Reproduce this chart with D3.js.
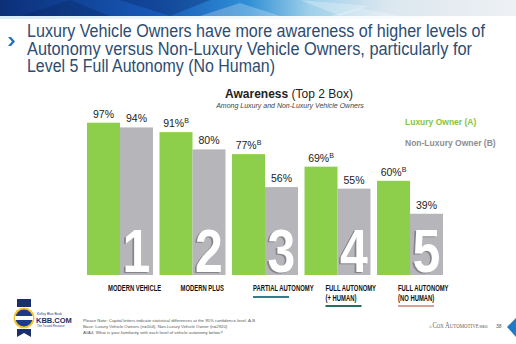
<!DOCTYPE html>
<html>
<head>
<meta charset="utf-8">
<script src="https://cdn.jsdelivr.net/npm/d3@7/dist/d3.min.js"></script>
<style>
  body { margin: 0; background: #fff; }
  svg { display: block; font-family: "Liberation Sans", Arial, sans-serif; }
</style>
</head>
<body>
<svg class="canvas" width="516" height="344"></svg>
<script>
// chart data
var categories = ['MODERN VEHICLE', 'MODERN PLUS', 'PARTIAL AUTONOMY', 'FULL AUTONOMY|(+ HUMAN)', 'FULL AUTONOMY|(NO HUMAN)'];
var luxury = [97, 91, 77, 69, 60];
var nonLuxury = [94, 80, 56, 55, 39];
var sigLetters = ['', 'B', 'B', 'B', 'B'];
var levels = ['1', '2', '3', '4', '5'];
var underlineColors = [null, null, '#2f7e88', '#2b6c55', '#d8a09d'];
var seriesNames = ['Luxury Owner (A)', 'Non-Luxury Owner (B)'];
var seriesColors = ['#8dcf4a', '#b5b5ba'];

var titleLines = [
    'Luxury Vehicle Owners have more awareness of higher levels of',
    'Autonomy versus Non-Luxury Vehicle Owners, particularly for',
    'Level 5 Full Autonomy (No Human)'
];
var titleWidths = [458, 445, 248];
var footnotes = [
    'Please Note: Capital letters indicate statistical differences at the 95% confidence level. A-B',
    'Base: Luxury Vehicle Owners (n=104), Non-Luxury Vehicle Owner (n=2920)',
    'AVA4. What is your familiarity with each level of vehicle autonomy below?'
];

var svg = d3.select('.canvas');
var defs = svg.append('defs');

/**
 * header banner
 */
var grad = defs.append('linearGradient').attr('id', 'banner');
[['0', '#0c2f78'], ['0.3', '#1758b8'], ['0.48', '#2f8fd6'], ['0.6', '#9fd0ea'], ['0.75', '#dbe7ef'], ['1', '#eef1f4']]
    .forEach(s => grad.append('stop').attr('offset', s[0]).attr('stop-color', s[1]));
svg.append('rect').attr('x', 0).attr('y', 0).attr('width', 516).attr('height', 16).attr('fill', 'url(#banner)');
var facets = [
    [[20, 16], [70, 0], [110, 16]], [[120, 0], [170, 16], [210, 0]], [[200, 16], [240, 3], [280, 16]],
    [[300, 0], [340, 16], [370, 6]], [[330, 16], [360, 8], [400, 16]]
];
svg.append('g').selectAll('polygon').data(facets).join('polygon')
    .attr('points', d => d.map(p => p.join(',')).join(' '))
    .attr('fill', (d, i) => i < 2 ? '#0a2460' : '#ffffff')
    .attr('opacity', (d, i) => i < 2 ? 0.35 : 0.25);
var strip = defs.append('linearGradient').attr('id', 'strip');
[['0', '#d7ecf8'], ['0.5', '#f3f9fc'], ['1', '#ffffff']]
    .forEach(s => strip.append('stop').attr('offset', s[0]).attr('stop-color', s[1]));
svg.append('rect').attr('x', 0).attr('y', 16).attr('width', 516).attr('height', 3).attr('fill', 'url(#strip)');

// chevron
svg.append('path')
    .attr('d', 'M8,37 L11,37 L15,41.5 L11,46 L8,46 L12,41.5 Z')
    .attr('fill', '#1f6fc0');

svg.append('g').selectAll('text').data(titleLines).join('text')
    .attr('x', 27)
    .attr('y', (d, i) => 37 + i * 17.5)
    .attr('font-size', 17.5)
    .attr('fill', '#2c4c72')
    .attr('textLength', (d, i) => titleWidths[i])
    .attr('lengthAdjust', 'spacingAndGlyphs')
    .text(d => d);

/**
 * chart headings and legend
 */
var heading = svg.append('text').attr('x', 289).attr('y', 98).attr('text-anchor', 'middle')
    .attr('font-size', 12).attr('fill', '#222');
heading.append('tspan').attr('font-weight', 'bold').text('Awareness');
heading.append('tspan').text(' (Top 2 Box)');
svg.append('text').attr('x', 290).attr('y', 108).attr('text-anchor', 'middle')
    .attr('font-size', 7).attr('font-style', 'italic').attr('fill', '#444')
    .text('Among Luxury and Non-Luxury Vehicle Owners');

svg.append('g').selectAll('text').data(seriesNames).join('text')
    .attr('x', 405)
    .attr('y', (d, i) => 125 + i * 21)
    .attr('font-size', 8.5)
    .attr('font-weight', 'bold')
    .attr('fill', (d, i) => i === 0 ? '#86c540' : '#8e8e92')
    .text(d => d);

/**
 * bars
 */
var x0 = d3.scaleBand().domain(categories).range([87, 443]).paddingInner(0.09);
var x1 = d3.scaleBand().domain(['A', 'B']).range([0, x0.bandwidth()]);
var y = d3.scaleLinear().domain([0, 100]).range([275, 118]);

var rows = categories.map((c, i) => ({
    cat: c, level: levels[i], sig: sigLetters[i], line: underlineColors[i],
    vals: [{key: 'A', v: luxury[i], sig: sigLetters[i]}, {key: 'B', v: nonLuxury[i], sig: ''}]
}));

var groups = svg.append('g').selectAll('g').data(rows).join('g')
    .attr('transform', d => 'translate(' + x0(d.cat) + ',0)');

groups.selectAll('rect').data(d => d.vals).join('rect')
    .attr('x', d => x1(d.key))
    .attr('y', d => y(d.v))
    .attr('width', x1.bandwidth())
    .attr('height', d => y(0) - y(d.v))
    .attr('fill', (d, i) => seriesColors[i]);

// big level digits with a shaded edge, squeezed horizontally
var digitX = x1('B') + x1.bandwidth() / 2;
[['#858589', -1.8, 1], ['#ffffff', 0, 0]].forEach(function(s){
    groups.append('g')
        .attr('transform', 'translate(' + (digitX + s[1]) + ',' + (y(0) - 3 + s[2]) + ') scale(0.82,1)')
        .append('text')
        .attr('text-anchor', 'middle')
        .attr('font-size', 61).attr('font-weight', 'bold')
        .attr('fill', s[0])
        .text(d => d.level);
});

// value labels
var labels = groups.selectAll('text.val').data(d => d.vals).join('text')
    .attr('class', 'val')
    .attr('x', d => x1(d.key) + x1.bandwidth() / 2)
    .attr('y', d => y(d.v) - 5)
    .attr('text-anchor', 'middle')
    .attr('font-size', 10.5)
    .attr('fill', '#222');
labels.append('tspan').text(d => d.v + '%');
labels.filter(d => d.sig).append('tspan')
    .attr('font-size', 7).attr('dy', -4).text(d => d.sig);

// category labels, condensed
var catText = groups.append('g')
    .attr('transform', 'translate(21,291) scale(0.62,1)')
    .append('text')
    .attr('font-size', 9.5)
    .attr('font-weight', 'bold')
    .attr('fill', '#111');
catText.selectAll('tspan').data(d => d.cat.split('|')).join('tspan')
    .attr('x', 0)
    .attr('dy', (d, i) => i === 0 ? 0 : 10)
    .text(d => d);

groups.filter(d => d.line).append('line')
    .attr('x1', 21)
    .attr('x2', 57)
    .attr('y1', d => d.cat.indexOf('|') > 0 ? 306 : 297)
    .attr('y2', d => d.cat.indexOf('|') > 0 ? 306 : 297)
    .attr('stroke', d => d.line)
    .attr('stroke-width', 2);

/**
 * footer
 */
svg.append('g').selectAll('text').data(footnotes).join('text')
    .attr('x', 83)
    .attr('y', (d, i) => 322 + i * 6)
    .attr('font-size', 4.3)
    .attr('fill', '#555')
    .text(d => d);

// kbb badge
var kbb = svg.append('g');
kbb.append('path').attr('d', 'M17,299 L31,299 L31,307 L17,307 Z').attr('fill', '#1b2f6b');
kbb.append('path').attr('d', 'M17,329 L31,329 L31,337 L24,333 L17,337 Z').attr('fill', '#1b2f6b');
kbb.append('circle').attr('cx', 24).attr('cy', 318).attr('r', 10.5).attr('fill', '#f2c230');
kbb.append('circle').attr('cx', 24).attr('cy', 318).attr('r', 8.5).attr('fill', '#1d3a8a');
kbb.append('rect').attr('x', 15).attr('y', 316).attr('width', 18).attr('height', 4).attr('fill', '#ffffff');
kbb.append('text').attr('x', 37).attr('y', 315).attr('font-size', 3.3).attr('fill', '#1d3a8a').text('Kelley Blue Book');
kbb.append('text').attr('x', 36).attr('y', 323).attr('font-size', 7.5).attr('font-weight', 'bold').attr('fill', '#1b2f6b').text('KBB.COM');
kbb.append('text').attr('x', 37).attr('y', 327).attr('font-size', 2.8).attr('fill', '#1d3a8a').text('The Trusted Resource');

var cox = svg.append('text').attr('x', 429).attr('y', 328).attr('fill', '#666')
    .attr('font-family', 'Liberation Serif, serif')
    .attr('textLength', 59).attr('lengthAdjust', 'spacingAndGlyphs');
cox.append('tspan').attr('font-size', 4.5).text('A ');
cox.append('tspan').attr('font-size', 8).text('C');
cox.append('tspan').attr('font-size', 6).text('OX ');
cox.append('tspan').attr('font-size', 8).text('A');
cox.append('tspan').attr('font-size', 6).text('UTOMOTIVE');
cox.append('tspan').attr('font-size', 3).attr('font-family', 'Liberation Sans, sans-serif').text(' BRAND');
svg.append('text').attr('x', 496).attr('y', 328).attr('font-size', 5).attr('fill', '#555').text('38');
svg.append('path').attr('d', 'M516,318 L507,327 L516,337 Z').attr('fill', '#1f7ac8');
</script>
</body>
</html>
